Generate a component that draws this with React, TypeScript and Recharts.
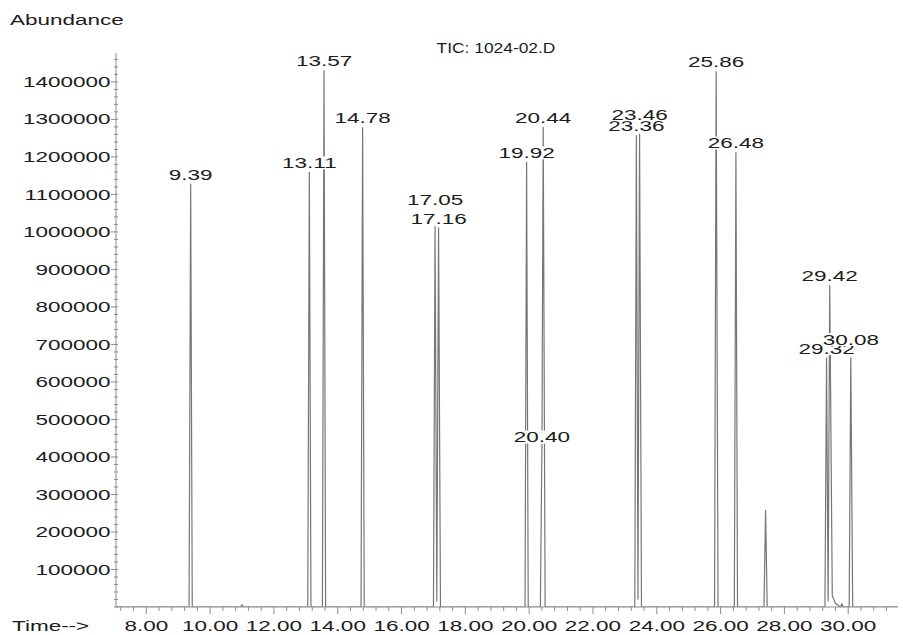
import React from 'react';
import { LineChart, Line, XAxis, YAxis, LabelList } from 'recharts';

// Chromatogram trace (retention time in min, abundance)
const traceTime = [
  7.05, 9.34, 9.39, 9.44, 10.95, 11.0, 11.05, 13.06, 13.11, 13.16, 13.52, 13.57, 13.62,
  14.73, 14.78, 14.83, 17.0, 17.05, 17.105, 17.16, 17.22, 19.87, 19.92, 19.97,
  20.35, 20.40, 20.44, 20.5, 23.31, 23.36, 23.41, 23.46, 23.52, 25.81, 25.86, 25.92,
  26.43, 26.48, 26.53, 27.36, 27.41, 27.46, 29.27, 29.32, 29.37, 29.42, 29.5, 29.6,
  29.75, 29.8, 29.85, 30.03, 30.08, 30.14, 31.56,
];
const traceAbundance = [
  0, 0, 1129000, 0, 0, 6000, 0, 0, 1160000, 0, 0, 1431000, 0,
  0, 1279000, 0, 0, 1015000, 15000, 1012000, 0, 0, 1187000, 0,
  0, 429000, 1280000, 0, 0, 1258000, 20000, 1262000, 0, 0, 1428500, 0,
  0, 1212700, 0, 0, 258500, 0, 0, 665000, 15000, 858000, 30000, 10000,
  0, 8000, 0, 0, 665000, 0, 0,
];
const peakLabels = [
  '9.39', '13.11', '13.57', '14.78', '17.05', '17.16', '19.92', '20.40', '20.44',
  '23.36', '23.46', '25.86', '26.48', '29.32', '29.42', '30.08',
];
const xTickLabels = ['8.00', '10.00', '12.00', '14.00', '16.00', '18.00', '20.00', '22.00', '24.00', '26.00', '28.00', '30.00'];
const yTickLabels = [
  '100000', '200000', '300000', '400000', '500000', '600000', '700000',
  '800000', '900000', '1000000', '1100000', '1200000', '1300000', '1400000',
];
const titleText = 'TIC: 1024-02.D';
const yAxisTitle = 'Abundance';
const xAxisTitle = 'Time-->';

const data = traceTime.map((t, i) => ({ t, a: traceAbundance[i] }));

const FONT = '"Liberation Sans", Arial, Helvetica, sans-serif';
const FS = 15;
const SX = 1.5;
const TEXT = '#1c1c1c';
const AXIS = '#8c8c8c';
const TRACE = '#777777';

const labelLift: Record<string, number> = { '17.05': 17, '23.46': 10, '30.08': 9 };

const charW: Record<string, number> = { '.': 0.278, '-': 0.333 };
const textWidth = (s: string) =>
  s.split('').reduce((acc, c) => acc + (charW[c] ?? 0.556), 0) * FS;

const xMinorTicks: number[] = [];
for (let i = 0; i <= 60; i++) xMinorTicks.push(Math.round((7.2 + 0.4 * i) * 10) / 10);
const yMinorTicks: number[] = [];
for (let i = 0; i <= 73; i++) yMinorTicks.push(i * 20000);

const StretchText = ({ x, y, anchor, children, sx }: any) => (
  <text
    transform={`translate(${x},${y}) scale(${sx ?? SX},1)`}
    textAnchor={anchor}
    dominantBaseline="central"
    fontFamily={FONT}
    fontSize={FS}
    fill={TEXT}
  >
    {children}
  </text>
);

const XTick = (props: any) => {
  const { x, y, payload } = props;
  const lab = Number(payload.value).toFixed(2);
  const major = xTickLabels.includes(lab);
  return (
    <g>
      <line x1={x} x2={x} y1={y} y2={y + (major ? 7 : 4)} stroke={AXIS} strokeWidth={1} />
      {major && (
        <StretchText x={x} y={y + 19} anchor="middle">
          {lab}
        </StretchText>
      )}
    </g>
  );
};

const YTick = (props: any) => {
  const { x, y, payload } = props;
  const v = Number(payload.value);
  const major = yTickLabels.includes(String(v));
  return (
    <g>
      <line x1={x - (major ? 5 : 2)} x2={x + 2} y1={y} y2={y} stroke={AXIS} strokeWidth={1} />
      {major && (
        <StretchText x={x - 5.5} y={y} anchor="end">
          {String(v)}
        </StretchText>
      )}
    </g>
  );
};

const renderPeakLabel = (props: any) => {
  const { x, y, value } = props;
  const lab = Number(value).toFixed(2);
  if (!peakLabels.includes(lab)) return null;
  const lift = labelLift[lab] ?? 0;
  const cy = y - 9 - lift;
  const w = textWidth(lab) * SX;
  return (
    <g key={`pl-${lab}`}>
      <rect x={x - w / 2 - 1} y={cy - 6.5} width={w + 2} height={13} fill="#ffffff" />
      <StretchText x={x} y={cy} anchor="middle">
        {lab}
      </StretchText>
    </g>
  );
};

export default function App() {
  return (
    <div style={{ position: 'absolute', left: 0, top: 0, width: 903, height: 635, background: '#ffffff' }}>
      <LineChart width={903} height={635} data={data} margin={{ top: 53, right: 5, bottom: 0, left: 0 }}>
        <XAxis
          dataKey="t"
          type="number"
          domain={[7.05, 31.56]}
          allowDataOverflow
          ticks={xMinorTicks}
          interval={0}
          tick={<XTick />}
          tickLine={false}
          tickSize={0}
          tickMargin={0}
          height={28}
          axisLine={{ stroke: AXIS, strokeWidth: 1 }}
        />
        <YAxis
          type="number"
          domain={[0, 1477000]}
          allowDataOverflow
          ticks={yMinorTicks}
          interval={0}
          tick={<YTick />}
          tickLine={false}
          tickSize={0}
          tickMargin={0}
          width={116}
          axisLine={{ stroke: AXIS, strokeWidth: 1 }}
        />
        <Line
          dataKey="a"
          type="linear"
          stroke={TRACE}
          strokeWidth={1.2}
          dot={false}
          isAnimationActive={false}
        >
          <LabelList dataKey="t" content={renderPeakLabel} />
        </Line>
      </LineChart>
      <svg
        width={903}
        height={635}
        style={{ position: 'absolute', left: 0, top: 0, pointerEvents: 'none' }}
      >
        <StretchText x={10} y={20} anchor="start">
          {yAxisTitle}
        </StretchText>
        <StretchText x={12} y={626} anchor="start">
          {xAxisTitle}
        </StretchText>
        <StretchText x={496} y={47} anchor="middle" sx={1.16}>
          {titleText}
        </StretchText>
      </svg>
    </div>
  );
}
